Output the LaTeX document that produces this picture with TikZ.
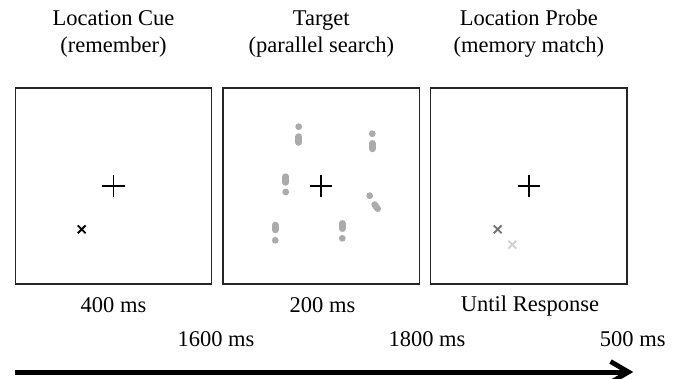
\documentclass[tikz,border=0pt]{standalone}
\usepackage{fontspec}
\setmainfont{Liberation Serif}
\begin{document}
\begin{tikzpicture}[x=1pt,y=-1pt,
  panel/.style={draw=black!85,line width=1.2pt,minimum width=196.5pt,minimum height=196pt,inner sep=0pt},
  lbl/.style={font=\fontsize{22.5}{27}\selectfont,inner sep=0pt,anchor=base,align=center},
  fixcross/.style={line width=1.6pt,black},
  xmark/.style={line width=1.8pt},
  item/.style={fill=black!33,draw=none},
  bar/.style={line width=6.5pt,line cap=round,black!33}]
\useasboundingbox (0,0) rectangle (680,378);
% panels
\node[panel] (p1) at (113.5,186) {};
\node[panel] (p2) at (321.3,186) {};
\node[panel] (p3) at (528.8,186) {};
% titles
\node[lbl] (t1a) at (113.5,25.5) {Location Cue};
\node[lbl] (t1b) at (113.5,52.5) {(remember)};
\node[lbl] (t2a) at (321.3,25.5) {Target};
\node[lbl] (t2b) at (321.3,52.5) {(parallel search)};
\node[lbl] (t3a) at (528.8,25.5) {Location Probe};
\node[lbl] (t3b) at (528.8,52.5) {(memory match)};
% durations
\node[lbl] (d1) at (113.5,312.5) {400 ms};
\node[lbl] (d2) at (322.5,312.5) {200 ms};
\node[lbl] (d3) at (530,311.5) {Until Response};
\node[lbl] (i1) at (216,346) {1600 ms};
\node[lbl] (i2) at (427,346) {1800 ms};
\node[lbl] (i3) at (632.7,346) {500 ms};
% fixation crosses
\foreach \c in {113.3,321,529}{
  \draw[fixcross] (\c-11.3,186) -- (\c+11.3,186);
  \draw[fixcross] (\c,174.7) -- (\c,197.3);
}
% cue
\draw[xmark,black] (77.8,225.4) -- (85.6,233.2) (77.8,233.2) -- (85.6,225.4);
% probe
\draw[xmark,black!55] (493.8,225.4) -- (501.6,233.2) (493.8,233.2) -- (501.6,225.4);
\draw[xmark,black!18] (508.4,240.8) -- (516.2,248.6) (508.4,248.6) -- (516.2,240.8);
% search items
\fill[item] (298.7,126.7) circle (3.4);
\draw[bar] (298.7,136.5) -- (298.7,142.5);
\fill[item] (372.3,133.7) circle (3.4);
\draw[bar] (372.3,143.3) -- (372.3,149);
\draw[bar] (285.7,176.5) -- (285.7,182.5);
\fill[item] (285.7,192) circle (3.4);
\fill[item] (369.7,195.7) circle (3.4);
\draw[bar] (374.5,204.5) -- (377.8,208.8);
\draw[bar] (275.3,225) -- (275.3,230);
\fill[item] (275.3,240.3) circle (3.4);
\draw[bar] (342.3,223.3) -- (342.3,228.7);
\fill[item] (342.3,238.3) circle (3.4);
% time arrow
\coordinate (as) at (15,372);
\coordinate (ae) at (627,372);
\draw[line width=5pt] (as) -- (ae);
\draw[line width=4.8pt,line cap=butt,line join=miter] (610.5,361.5) -- (628.5,372) -- (610.5,382.5);
\end{tikzpicture}
\end{document}
